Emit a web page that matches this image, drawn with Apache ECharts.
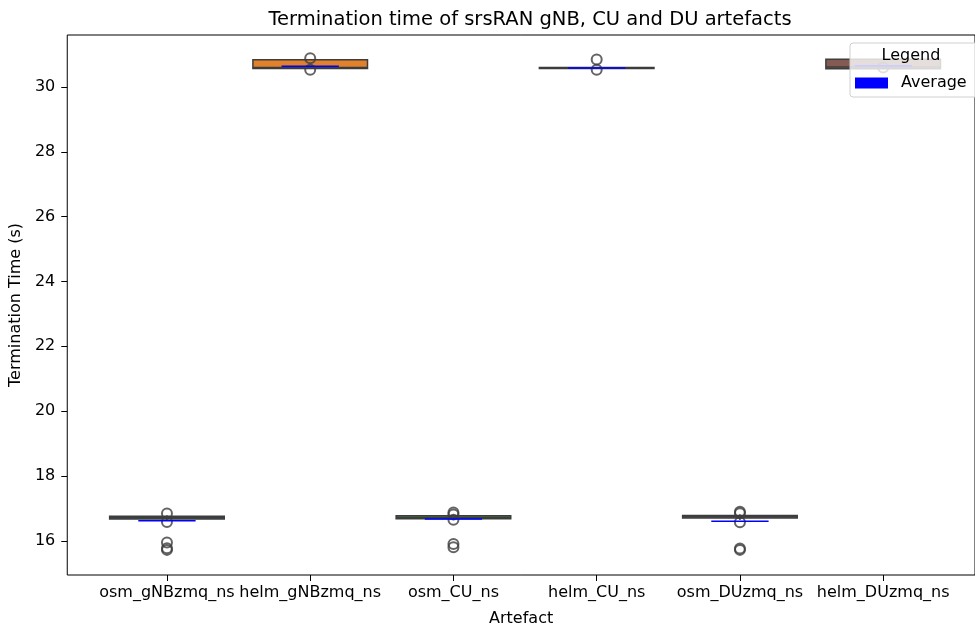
<!DOCTYPE html>
<html>
<head>
<meta charset="utf-8">
<script src="https://cdn.jsdelivr.net/npm/echarts@6/dist/echarts.min.js"></script>
<style>
  html, body { margin: 0; padding: 0; background: #fff; }
  #chart { width: 975px; height: 632px; }
</style>
</head>
<body>
<div id="chart"></div>
<script>
// box plot of termination times
var categories = ['osm_gNBzmq_ns', 'helm_gNBzmq_ns', 'osm_CU_ns', 'helm_CU_ns', 'osm_DUzmq_ns', 'helm_DUzmq_ns'];
var boxColors = ['#3274a1', '#e1812c', '#3a923a', '#c03d3e', '#9372b2', '#845b53'];
var whiskerLow = [16.63, 30.56, 16.64, 30.56, 16.64, 30.55];
var q1 = [16.67, 30.57, 16.68, 30.57, 16.70, 30.56];
var median = [16.71, 30.60, 16.72, 30.59, 16.74, 30.62];
var q3 = [16.76, 30.84, 16.77, 30.60, 16.78, 30.86];
var whiskerHigh = [16.79, 30.86, 16.81, 30.62, 16.82, 30.88];
var averages = [16.62, 30.64, 16.67, 30.59, 16.60, 30.66];
var outliers = [
  [0, 16.84], [0, 16.58], [0, 15.95], [0, 15.77], [0, 15.72],
  [1, 30.89], [1, 30.53],
  [2, 16.87], [2, 16.81], [2, 16.65], [2, 15.90], [2, 15.80],
  [3, 30.85], [3, 30.53],
  [4, 16.90], [4, 16.85], [4, 16.57], [4, 15.76], [4, 15.72],
  [5, 30.60]
];
var yTicks = [16, 18, 20, 22, 24, 26, 28, 30];

var font = 'DejaVu Sans';
var lineColor = '#3d3d3d';

var boxData = categories.map(function (c, i) {
  return [i, whiskerLow[i], q1[i], median[i], q3[i], whiskerHigh[i]];
});
var avgData = averages.map(function (v, i) { return [i, v]; });

var chart = echarts.init(document.getElementById('chart'));

var option = {
  animation: false,
  backgroundColor: '#fff',
  title: {
    text: 'Termination time of srsRAN gNB, CU and DU artefacts',
    left: 525,
    textAlign: 'center',
    top: 5,
    textStyle: { fontFamily: font, fontSize: 19.5, fontWeight: 'normal', color: '#000' }
  },
  grid: {
    left: 67, top: 35, right: -3, bottom: 52,
    show: true, borderColor: '#000', borderWidth: 1
  },
  xAxis: {
    type: 'value',
    min: -0.696,
    max: 5.641,
    splitLine: { show: false },
    axisLine: { show: false, onZero: false },
    axisTick: { show: true, length: 6, lineStyle: { color: '#000' }, customValues: [0, 1, 2, 3, 4, 5] },
    axisLabel: {
      customValues: [0, 1, 2, 3, 4, 5],
      margin: 10,
      fontFamily: font, fontSize: 16, color: '#000',
      formatter: function (v) { return categories[Math.round(v)]; }
    },
    name: 'Artefact',
    nameLocation: 'middle',
    nameGap: 36,
    nameTextStyle: { fontFamily: font, fontSize: 16, color: '#000' }
  },
  yAxis: {
    type: 'value',
    min: 14.945,
    max: 31.605,
    splitLine: { show: false },
    axisLine: { show: false, onZero: false },
    axisTick: { show: true, length: 6, lineStyle: { color: '#000' }, customValues: yTicks },
    axisLabel: {
      customValues: yTicks,
      margin: 12,
      fontFamily: font, fontSize: 16, color: '#000'
    },
    name: 'Termination Time (s)',
    nameLocation: 'middle',
    nameGap: 40,
    nameTextStyle: { fontFamily: font, fontSize: 16, color: '#000' }
  },
  legend: {
    data: [{ name: 'Average', icon: 'rect' }],
    left: 855,
    top: 75,
    itemWidth: 33,
    itemHeight: 11,
    itemGap: 5,
    padding: 0,
    z: 20,
    selectedMode: false,
    textStyle: { fontFamily: font, fontSize: 16, color: '#000', padding: [0, 0, 0, 8] }
  },
  graphic: [
    {
      type: 'rect', z: 15,
      shape: { x: 850, y: 43, width: 140, height: 54, r: 3 },
      style: { fill: 'rgba(255,255,255,0.8)', stroke: '#d0d0d0', lineWidth: 1 }
    },
    {
      type: 'text', z: 16,
      x: 911, y: 56,
      style: {
        text: 'Legend', fontFamily: font, fontSize: 16, fill: '#000',
        align: 'center', verticalAlign: 'middle'
      }
    }
  ],
  series: [
    {
      type: 'custom',
      name: 'Boxes',
      z: 2,
      data: boxData,
      renderItem: function (params, api) {
        var i = api.value(0);
        var half = 0.4;
        var lo = api.coord([i, api.value(1)]);
        var b1 = api.coord([i - half, api.value(2)]);
        var b2 = api.coord([i + half, api.value(4)]);
        var md1 = api.coord([i - half, api.value(3)]);
        var md2 = api.coord([i + half, api.value(3)]);
        var hi = api.coord([i, api.value(5)]);
        var stroke = { stroke: lineColor, lineWidth: 1.5 };
        return {
          type: 'group',
          children: [
            { type: 'line', shape: { x1: lo[0], y1: lo[1], x2: lo[0], y2: b1[1] }, style: stroke },
            { type: 'line', shape: { x1: hi[0], y1: b2[1], x2: hi[0], y2: hi[1] }, style: stroke },
            {
              type: 'rect',
              shape: { x: b1[0], y: b2[1], width: b2[0] - b1[0], height: Math.max(b1[1] - b2[1], 1) },
              style: { fill: boxColors[params.dataIndex], stroke: lineColor, lineWidth: 1.5 }
            },
            { type: 'line', shape: { x1: md1[0], y1: md1[1], x2: md2[0], y2: md2[1] }, style: stroke }
          ]
        };
      }
    },
    {
      type: 'scatter',
      name: 'Outliers',
      z: 3,
      symbol: 'circle',
      symbolSize: 10,
      itemStyle: { color: 'rgba(0,0,0,0)', borderColor: lineColor, borderWidth: 2 },
      data: outliers
    },
    {
      type: 'custom',
      name: 'Average',
      z: 4,
      itemStyle: { color: '#0000ff' },
      data: avgData,
      renderItem: function (params, api) {
        var i = api.value(0);
        var p1 = api.coord([i - 0.2, api.value(1)]);
        var p2 = api.coord([i + 0.2, api.value(1)]);
        return {
          type: 'line',
          shape: { x1: p1[0], y1: p1[1], x2: p2[0], y2: p2[1] },
          style: { stroke: '#0000ff', lineWidth: 1.5 }
        };
      }
    }
  ]
};

chart.setOption(option);
</script>
</body>
</html>
